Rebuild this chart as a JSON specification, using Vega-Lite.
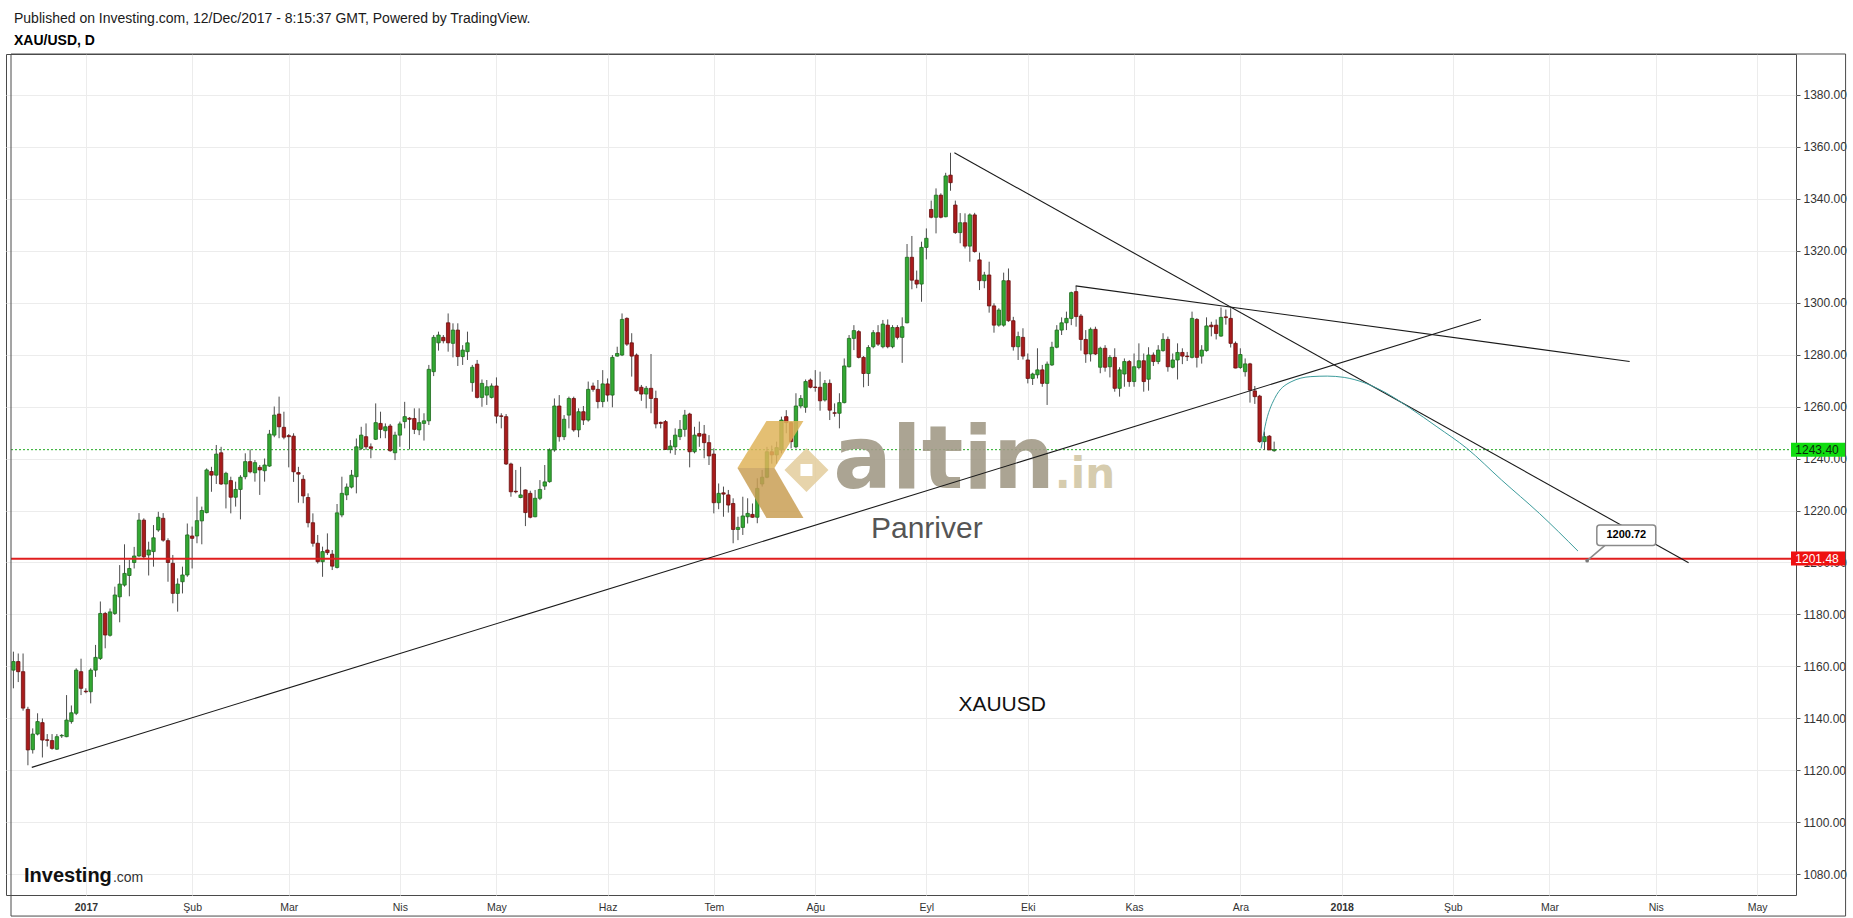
{
"$schema":"https://vega.github.io/schema/vega-lite/v6.json",
"width":1790,"height":841,
"autosize":{"type":"none"},
"padding":{"left":6,"top":54,"right":57,"bottom":23},
"background":"white",
"config":{"view":{"stroke":"#4a4a4a","strokeWidth":1},"font":"Liberation Sans"},
"title":{"text":"Published on Investing.com, 12/Dec/2017 - 8:15:37 GMT, Powered by TradingView.","subtitle":"XAU/USD, D","anchor":"start","frame":"group","dx":8,"offset":6,"font":"Liberation Sans","fontSize":14,"fontWeight":"normal","color":"#1a1a1a","subtitleFont":"Liberation Sans","subtitleFontSize":14,"subtitleFontWeight":"bold","subtitleColor":"#000000","subtitlePadding":8},
"encoding":{
 "x":{"field":"n","type":"quantitative","scale":{"domain":[-0.5,368],"nice":false,"zero":false},
  "axis":{"title":null,"domain":false,"grid":true,"gridColor":"#ececec","tickSize":0,"labelPadding":7,"labelFontSize":10.5,"labelColor":"#333333","labelFont":"Liberation Sans",
   "values":[15,37,57,80,100,123,145,166,189,210,232,254,275,298,318,340,361],
   "labelExpr":"['2017','Şub','Mar','Nis','May','Haz','Tem','Ağu','Eyl','Eki','Kas','Ara','2018','Şub','Mar','Nis','May'][indexof([15,37,57,80,100,123,145,166,189,210,232,254,275,298,318,340,361], datum.value)]",
   "labelFontWeight":{"condition":{"test":"datum.value == 15 || datum.value == 275","value":"bold"},"value":"normal"}}},
 "y":{"type":"quantitative","scale":{"domain":[1072.1,1395.6],"nice":false,"zero":false},
  "axis":{"title":null,"orient":"right","domain":false,"grid":true,"gridColor":"#ececec","tickSize":4,"tickColor":"#555555","labelPadding":3,"labelFontSize":12,"labelColor":"#333333","labelFont":"Liberation Sans","format":".2f",
   "values":[1080,1100,1120,1140,1160,1180,1200,1220,1240,1260,1280,1300,1320,1340,1360,1380]}}
},
"layer":[
{"data":{"values":[{"n":-0.5,"n2":368,"v":1243.4}]},"mark":{"type":"rule","color":"#1fa81f","strokeWidth":1,"strokeDash":[2,2]},"encoding":{"y":{"field":"v"},"x2":{"field":"n2"}}},
{"data":{"name":"candles"},"mark":{"type":"rule","color":"#4d4d4d","strokeWidth":1,"clip":true},"encoding":{"y":{"field":"l"},"y2":{"field":"h"}}},
{"data":{"name":"candles"},"mark":{"type":"bar","width":3.4,"strokeWidth":0.8,"clip":true},"encoding":{"y":{"field":"o"},"y2":{"field":"c"},
 "color":{"condition":{"test":"datum.c >= datum.o","value":"#33a833"},"value":"#a81c1c"},
 "stroke":{"condition":{"test":"datum.c >= datum.o","value":"#1d6b1d"},"value":"#6b0f0f"}}},
{"data":{"values":[{"n":-0.5,"n2":368,"v":1201.48}]},"mark":{"type":"rule","color":"#e01e1e","strokeWidth":2},"encoding":{"y":{"field":"v"},"x2":{"field":"n2"}}},
{"data":{"values":[{"n":159.0,"v":1235.6}]},"mark":{"type":"point","filled":true,"size":10000,"strokeWidth":0,"color":"#dfb45a","opacity":0.85,"shape":"M-0.88,-0.04L-0.3,-0.98L0.44,-0.98L-0.14,-0.04Z"},"encoding":{"y":{"field":"v"}}},
{"data":{"values":[{"n":159.0,"v":1235.6}]},"mark":{"type":"point","filled":true,"size":10000,"strokeWidth":0,"color":"#c99f55","opacity":0.85,"shape":"M-0.88,-0.04L-0.14,-0.04L0.44,0.96L-0.3,0.96Z"},"encoding":{"y":{"field":"v"}}},
{"data":{"values":[{"n":159.0,"v":1235.6}]},"mark":{"type":"point","filled":true,"size":10000,"strokeWidth":0,"color":"#e3cd9c","opacity":0.85,"shape":"M0.06,0L0.5,-0.44L0.94,0L0.5,0.44ZM0.38,-0.12L0.38,0.12L0.62,0.12L0.62,-0.12Z"},"encoding":{"y":{"field":"v"}}},
{"data":{"values":[{"t":"altin","n":169.7,"v":1228.7}]},"mark":{"type":"text","font":"DejaVu Sans","fontWeight":"bold","fontSize":87,"align":"left","baseline":"alphabetic","color":"#a29b88","opacity":0.9},"encoding":{"y":{"field":"v"},"text":{"field":"t"}}},
{"data":{"values":[{"t":".in","n":215.6,"v":1228.7}]},"mark":{"type":"text","font":"DejaVu Sans","fontWeight":"bold","fontSize":42,"align":"left","baseline":"alphabetic","color":"#d2c7a6","opacity":0.9},"encoding":{"y":{"field":"v"},"text":{"field":"t"}}},
{"data":{"values":[{"t":"Panriver","n":189.1,"v":1209.4}]},"mark":{"type":"text","font":"Liberation Sans","fontSize":30,"align":"center","baseline":"alphabetic","color":"#555555"},"encoding":{"y":{"field":"v"},"text":{"field":"t"}}},
{"data":{"values":[{"t":"XAUUSD","n":204.7,"v":1142.9}]},"mark":{"type":"text","font":"Liberation Sans","fontSize":21,"align":"center","baseline":"alphabetic","color":"#111111"},"encoding":{"y":{"field":"v"},"text":{"field":"t"}}},
{"data":{"values":[{"t":"Investing","n":2.2,"v":1077.2}]},"mark":{"type":"text","font":"Liberation Sans","fontWeight":"bold","fontSize":20,"align":"left","baseline":"alphabetic","color":"#111111","letterSpacing":-0.6},"encoding":{"y":{"field":"v"},"text":{"field":"t"}}},
{"data":{"values":[{"t":".com","n":20.6,"v":1077.2}]},"mark":{"type":"text","font":"Liberation Sans","fontSize":14,"align":"left","baseline":"alphabetic","color":"#333333"},"encoding":{"y":{"field":"v"},"text":{"field":"t"}}},
{"data":{"values":[{"id":"A","n":3.8,"v":1121.2},{"id":"A","n":303.8,"v":1293.5},{"id":"B","n":194.8,"v":1357.6},{"id":"B","n":346.8,"v":1199.9},{"id":"C","n":219.9,"v":1306.4},{"id":"C","n":334.6,"v":1277.3}]},"mark":{"type":"line","color":"#1a1a1a","strokeWidth":1.1},"encoding":{"y":{"field":"v"},"detail":{"field":"id"}}},
{"data":{"values":[{"n":258.3,"v":1243.9},{"n":259.1,"v":1252.2},{"n":261.1,"v":1263.1},{"n":264.5,"v":1269.5},{"n":268.6,"v":1271.5},{"n":272,"v":1271.7},{"n":275.5,"v":1271.2},{"n":279.6,"v":1269.2},{"n":283.7,"v":1265.7},{"n":289.2,"v":1259.3},{"n":294.7,"v":1252.2},{"n":300.9,"v":1243.9},{"n":308.1,"v":1231.7},{"n":315.9,"v":1218.9},{"n":323.9,"v":1204.4}]},"mark":{"type":"line","color":"#3d9c9c","strokeWidth":1,"interpolate":"monotone"},"encoding":{"y":{"field":"v"}}},
{"data":{"values":[{"n":329.5,"v":1206.6},{"n":325.8,"v":1200.72},{"n":332,"v":1206.6}]},"mark":{"type":"line","color":"#8a8a8a","strokeWidth":1.5},"encoding":{"y":{"field":"v"},"order":{"value":0}}},
{"data":{"values":[{"n":327.8,"n2":340,"v":1214.4,"v2":1206.5}]},"mark":{"type":"rect","fill":"white","stroke":"#8a8a8a","strokeWidth":1.5,"cornerRadius":3},"encoding":{"y":{"field":"v"},"x2":{"field":"n2"},"y2":{"field":"v2"}}},
{"data":{"values":[{"n":325.8,"v":1200.72}]},"mark":{"type":"point","filled":true,"color":"#7a7a7a","size":14,"opacity":1},"encoding":{"y":{"field":"v"}}},
{"data":{"values":[{"t":"1200.72","n":333.9,"v":1210.4}]},"mark":{"type":"text","font":"Liberation Sans","fontWeight":"bold","fontSize":11,"align":"center","baseline":"middle","color":"#000000"},"encoding":{"y":{"field":"v"},"text":{"field":"t"}}},
{"data":{"values":[{"n":368,"n2":379.3,"v":1246.1,"v2":1240.7,"k":"g"},{"n":368,"n2":379.3,"v":1204.2,"v2":1198.8,"k":"r"}]},"mark":{"type":"rect","clip":false},"encoding":{"y":{"field":"v"},"x2":{"field":"n2"},"y2":{"field":"v2"},"color":{"condition":{"test":"datum.k == 'g'","value":"#10dd10"},"value":"#ee1111"}}},
{"data":{"values":[{"t":"1243.40","n":368.9,"v":1243.4,"k":"g"},{"t":"1201.48","n":368.9,"v":1201.48,"k":"r"}]},"mark":{"type":"text","clip":false,"font":"Liberation Sans","fontSize":12,"align":"left","baseline":"middle"},"encoding":{"y":{"field":"v"},"text":{"field":"t"},"color":{"condition":{"test":"datum.k == 'g'","value":"#0a2a0a"},"value":"#ffffff"}}},
{"data":{"values":[{"n":-0.5,"n2":379.3,"v":1395.6,"v2":1064.0}]},"mark":{"type":"rect","clip":false,"filled":false,"stroke":"#4a4a4a","strokeWidth":1},"encoding":{"y":{"field":"v"},"x2":{"field":"n2"},"y2":{"field":"v2"}}}
],
"datasets":{"candles":[
{"n":0,"o":1158.6,"h":1165.7,"l":1151.6,"c":1161.9},
{"n":1,"o":1161.9,"h":1165,"l":1154,"c":1158},
{"n":2,"o":1158,"h":1165,"l":1143,"c":1144},
{"n":3,"o":1143.5,"h":1144.5,"l":1122,"c":1127.9},
{"n":4,"o":1128,"h":1136.2,"l":1126.5,"c":1134},
{"n":5,"o":1134,"h":1142,"l":1133.5,"c":1138.8},
{"n":6,"o":1138.4,"h":1140,"l":1125,"c":1131.7},
{"n":7,"o":1131.8,"h":1134,"l":1129.2,"c":1131.6},
{"n":8,"o":1131.5,"h":1134,"l":1128,"c":1128.5},
{"n":9,"o":1128.2,"h":1134,"l":1127.9,"c":1133},
{"n":10,"o":1133.3,"h":1134,"l":1132.5,"c":1133.5},
{"n":11,"o":1133,"h":1149,"l":1132.8,"c":1139.4},
{"n":12,"o":1138.8,"h":1145,"l":1138,"c":1142.2},
{"n":13,"o":1142,"h":1159.3,"l":1141.3,"c":1158.6},
{"n":14,"o":1158,"h":1163,"l":1149,"c":1151.6},
{"n":15,"o":1150.5,"h":1151.6,"l":1149.7,"c":1150.3},
{"n":16,"o":1150.3,"h":1159.3,"l":1145.8,"c":1158.6},
{"n":17,"o":1158.6,"h":1168.3,"l":1156,"c":1163.5},
{"n":18,"o":1163.1,"h":1185,"l":1162.5,"c":1180.4},
{"n":19,"o":1180.4,"h":1181,"l":1167,"c":1172.1},
{"n":20,"o":1172,"h":1182.3,"l":1171.5,"c":1181},
{"n":21,"o":1180.4,"h":1190.7,"l":1179.8,"c":1187.5},
{"n":22,"o":1186.8,"h":1199,"l":1177,"c":1191.7},
{"n":23,"o":1191.3,"h":1207,"l":1190.7,"c":1195.8},
{"n":24,"o":1195,"h":1201,"l":1187,"c":1197.7},
{"n":25,"o":1200,"h":1206,"l":1197.7,"c":1202.5},
{"n":26,"o":1202.5,"h":1219,"l":1202.2,"c":1216.3},
{"n":27,"o":1216.3,"h":1217,"l":1201.6,"c":1202.2},
{"n":28,"o":1202.9,"h":1208,"l":1195,"c":1204.8},
{"n":29,"o":1204.2,"h":1214.4,"l":1198.4,"c":1209.5},
{"n":30,"o":1212.5,"h":1219.5,"l":1211.8,"c":1217.4},
{"n":31,"o":1217,"h":1219,"l":1208,"c":1208.6},
{"n":32,"o":1208.4,"h":1209.3,"l":1192.6,"c":1200},
{"n":33,"o":1199.7,"h":1202.9,"l":1184.3,"c":1188.1},
{"n":34,"o":1188.1,"h":1193.9,"l":1181.1,"c":1191.7},
{"n":35,"o":1192.6,"h":1198.4,"l":1188.1,"c":1195.2},
{"n":36,"o":1195.2,"h":1215,"l":1194.5,"c":1210.6},
{"n":37,"o":1210.2,"h":1213.8,"l":1197.7,"c":1209.3},
{"n":38,"o":1210.2,"h":1225.3,"l":1207.4,"c":1216.1},
{"n":39,"o":1216,"h":1221.5,"l":1207,"c":1220},
{"n":40,"o":1219.2,"h":1236.2,"l":1218.9,"c":1235.6},
{"n":41,"o":1235,"h":1236.8,"l":1227.2,"c":1233.6},
{"n":42,"o":1233.6,"h":1245.2,"l":1230.2,"c":1241.7},
{"n":43,"o":1242.2,"h":1244.5,"l":1229.8,"c":1230.2},
{"n":44,"o":1230.2,"h":1234.9,"l":1220.8,"c":1234.3},
{"n":45,"o":1231.5,"h":1233,"l":1218.9,"c":1225.1},
{"n":46,"o":1225.1,"h":1231.1,"l":1221.5,"c":1228.1},
{"n":47,"o":1228.1,"h":1233.6,"l":1216.6,"c":1232.8},
{"n":48,"o":1233,"h":1242,"l":1232,"c":1238.8},
{"n":49,"o":1238.8,"h":1243.5,"l":1234.3,"c":1234.9},
{"n":50,"o":1234.5,"h":1239.4,"l":1231.1,"c":1238.4},
{"n":51,"o":1236.6,"h":1237.5,"l":1226,"c":1235.6},
{"n":52,"o":1235.3,"h":1240,"l":1231.1,"c":1237.5},
{"n":53,"o":1237.1,"h":1251,"l":1236.8,"c":1249.4},
{"n":54,"o":1249,"h":1260,"l":1248.2,"c":1256.7},
{"n":55,"o":1257.1,"h":1263.8,"l":1247.8,"c":1252.2},
{"n":56,"o":1252,"h":1258,"l":1247.4,"c":1248.2},
{"n":57,"o":1248.8,"h":1249.4,"l":1236.6,"c":1248.4},
{"n":58,"o":1248.6,"h":1249.7,"l":1231,"c":1234.9},
{"n":59,"o":1234.6,"h":1236.8,"l":1223,"c":1234},
{"n":60,"o":1232,"h":1233.6,"l":1222.8,"c":1225.6},
{"n":61,"o":1225,"h":1226.6,"l":1213.5,"c":1215.3},
{"n":62,"o":1215.3,"h":1218.9,"l":1206.1,"c":1207.4},
{"n":63,"o":1207.4,"h":1210.6,"l":1199.6,"c":1200.3},
{"n":64,"o":1200.3,"h":1206.1,"l":1194.5,"c":1204.2},
{"n":65,"o":1204.8,"h":1211.2,"l":1202.9,"c":1203.8},
{"n":66,"o":1203.2,"h":1204.8,"l":1197.1,"c":1198.6},
{"n":67,"o":1198.1,"h":1222.5,"l":1197.7,"c":1219.1},
{"n":68,"o":1218.3,"h":1233,"l":1217.4,"c":1226.6},
{"n":69,"o":1226,"h":1230.4,"l":1224,"c":1229},
{"n":70,"o":1229,"h":1235.6,"l":1228.5,"c":1233.6},
{"n":71,"o":1233,"h":1247.7,"l":1226.6,"c":1244.5},
{"n":72,"o":1243.9,"h":1252.2,"l":1243.3,"c":1249},
{"n":73,"o":1248.4,"h":1253.5,"l":1243.3,"c":1244.5},
{"n":74,"o":1244.5,"h":1245.8,"l":1240.1,"c":1243.9},
{"n":75,"o":1247.4,"h":1261.2,"l":1247.1,"c":1253.8},
{"n":76,"o":1253.5,"h":1258,"l":1247.8,"c":1251.2},
{"n":77,"o":1250.7,"h":1253.5,"l":1247.8,"c":1252.2},
{"n":78,"o":1252.5,"h":1253.3,"l":1242.6,"c":1243},
{"n":79,"o":1242.2,"h":1250.3,"l":1239.4,"c":1249},
{"n":80,"o":1249,"h":1254.2,"l":1244.5,"c":1253.3},
{"n":81,"o":1254.2,"h":1261.8,"l":1251.6,"c":1256.1},
{"n":82,"o":1255.5,"h":1255.9,"l":1243.5,"c":1255.1},
{"n":83,"o":1255.4,"h":1259.3,"l":1249.4,"c":1251.2},
{"n":84,"o":1251,"h":1259.3,"l":1249,"c":1253.8},
{"n":85,"o":1253.5,"h":1257.4,"l":1246.9,"c":1254.5},
{"n":86,"o":1254.5,"h":1276,"l":1252.9,"c":1274.3},
{"n":87,"o":1273.4,"h":1287.5,"l":1271.7,"c":1286.6},
{"n":88,"o":1284.5,"h":1288.8,"l":1281.5,"c":1287.5},
{"n":89,"o":1286.6,"h":1287.5,"l":1284.3,"c":1285.3},
{"n":90,"o":1292.2,"h":1295.8,"l":1281.1,"c":1284.5},
{"n":91,"o":1284.3,"h":1292,"l":1278.9,"c":1289.4},
{"n":92,"o":1289.4,"h":1292,"l":1275.6,"c":1279.2},
{"n":93,"o":1279.2,"h":1283.6,"l":1276,"c":1281.7},
{"n":94,"o":1281.1,"h":1288.8,"l":1277.9,"c":1284.5},
{"n":95,"o":1269.2,"h":1276,"l":1265.7,"c":1275.1},
{"n":96,"o":1276.3,"h":1277.9,"l":1263.1,"c":1263.5},
{"n":97,"o":1263.5,"h":1270.4,"l":1259.9,"c":1268.9},
{"n":98,"o":1264.4,"h":1270.2,"l":1260.6,"c":1267.6},
{"n":99,"o":1263.5,"h":1268.9,"l":1263.1,"c":1267.9},
{"n":100,"o":1267.9,"h":1271.2,"l":1253.5,"c":1256.3},
{"n":101,"o":1256.4,"h":1257.4,"l":1251.6,"c":1256.2},
{"n":102,"o":1256.1,"h":1257.1,"l":1237.5,"c":1237.9},
{"n":103,"o":1237.9,"h":1238.4,"l":1225.3,"c":1227.2},
{"n":104,"o":1227.4,"h":1235.6,"l":1226.6,"c":1227.2},
{"n":105,"o":1225,"h":1236.8,"l":1224.7,"c":1226},
{"n":106,"o":1227.9,"h":1228.1,"l":1214,"c":1219.2},
{"n":107,"o":1226.6,"h":1227.6,"l":1217,"c":1217.4},
{"n":108,"o":1217.6,"h":1227.9,"l":1217.4,"c":1224.7},
{"n":109,"o":1224.7,"h":1231.7,"l":1224,"c":1228.1},
{"n":110,"o":1229.4,"h":1237.5,"l":1227.9,"c":1231},
{"n":111,"o":1231.1,"h":1243.9,"l":1230.7,"c":1243.3},
{"n":112,"o":1243.3,"h":1263.1,"l":1242.6,"c":1260.2},
{"n":113,"o":1260.2,"h":1264.4,"l":1246.5,"c":1248.4},
{"n":114,"o":1248.4,"h":1256.7,"l":1247.1,"c":1255.1},
{"n":115,"o":1256.7,"h":1263.8,"l":1251.6,"c":1263.1},
{"n":116,"o":1263.1,"h":1263.8,"l":1250.3,"c":1251},
{"n":117,"o":1251,"h":1259.3,"l":1248.2,"c":1258},
{"n":118,"o":1258,"h":1260.2,"l":1252.9,"c":1254.8},
{"n":119,"o":1254.8,"h":1269.6,"l":1254.2,"c":1266.6},
{"n":120,"o":1267.9,"h":1269.2,"l":1265.7,"c":1266.6},
{"n":121,"o":1266.6,"h":1270.2,"l":1259.3,"c":1261.9},
{"n":122,"o":1261.9,"h":1274,"l":1259.7,"c":1268.7},
{"n":123,"o":1268.7,"h":1270.8,"l":1261.9,"c":1264.4},
{"n":124,"o":1264.4,"h":1279.8,"l":1259.7,"c":1278.9},
{"n":125,"o":1279.4,"h":1283,"l":1279.2,"c":1280.4},
{"n":126,"o":1279.8,"h":1295.8,"l":1279.4,"c":1293.5},
{"n":127,"o":1293.9,"h":1294.3,"l":1283.3,"c":1284},
{"n":128,"o":1284.5,"h":1288.2,"l":1271.5,"c":1279.4},
{"n":129,"o":1279.8,"h":1280.4,"l":1265.7,"c":1266.1},
{"n":130,"o":1267.4,"h":1268.3,"l":1262.2,"c":1264.8},
{"n":131,"o":1264.8,"h":1267.9,"l":1259.3,"c":1267},
{"n":132,"o":1267,"h":1280.2,"l":1257.4,"c":1263.1},
{"n":133,"o":1263.1,"h":1266.1,"l":1251.6,"c":1253.3},
{"n":134,"o":1253.9,"h":1254.2,"l":1251.6,"c":1253.5},
{"n":135,"o":1254.2,"h":1254.8,"l":1243.3,"c":1243.5},
{"n":136,"o":1243.5,"h":1247.1,"l":1242,"c":1244.8},
{"n":137,"o":1244.5,"h":1251.6,"l":1241.4,"c":1249},
{"n":138,"o":1248.4,"h":1254.8,"l":1247.1,"c":1251.2},
{"n":139,"o":1251.2,"h":1258.7,"l":1248.4,"c":1256.7},
{"n":140,"o":1257.1,"h":1257.6,"l":1236.6,"c":1242.6},
{"n":141,"o":1242.6,"h":1252.2,"l":1242,"c":1249},
{"n":142,"o":1249.6,"h":1254.2,"l":1244.5,"c":1248.6},
{"n":143,"o":1249.4,"h":1252.9,"l":1240.1,"c":1246.1},
{"n":144,"o":1246.1,"h":1249,"l":1237.5,"c":1241},
{"n":145,"o":1241.7,"h":1243.9,"l":1218.9,"c":1223},
{"n":146,"o":1223,"h":1230.4,"l":1220.5,"c":1226.6},
{"n":147,"o":1226.8,"h":1229.2,"l":1217.6,"c":1226.3},
{"n":148,"o":1226,"h":1227.9,"l":1219.2,"c":1222.1},
{"n":149,"o":1222.7,"h":1224.7,"l":1207.4,"c":1212.7},
{"n":150,"o":1212.7,"h":1217.6,"l":1208.6,"c":1213.5},
{"n":151,"o":1213.5,"h":1225.3,"l":1210.6,"c":1217.9},
{"n":152,"o":1217.6,"h":1224.7,"l":1215,"c":1218.9},
{"n":153,"o":1218.5,"h":1222.7,"l":1217.2,"c":1217.4},
{"n":154,"o":1217.4,"h":1232.4,"l":1215.1,"c":1228.5},
{"n":155,"o":1230.2,"h":1235.6,"l":1229.2,"c":1232.8},
{"n":156,"o":1232.8,"h":1244.5,"l":1232.4,"c":1242.6},
{"n":157,"o":1242.6,"h":1245,"l":1238,"c":1241.4},
{"n":158,"o":1241.4,"h":1246.5,"l":1238,"c":1244.2},
{"n":159,"o":1243.3,"h":1256.1,"l":1242,"c":1254.8},
{"n":160,"o":1256.1,"h":1258.6,"l":1249.7,"c":1253.8},
{"n":161,"o":1253.8,"h":1254.2,"l":1243.9,"c":1246.5},
{"n":162,"o":1244.5,"h":1265.1,"l":1243.9,"c":1260.2},
{"n":163,"o":1260.2,"h":1264.4,"l":1259.3,"c":1263.1},
{"n":164,"o":1259.7,"h":1270.4,"l":1257.6,"c":1269.6},
{"n":165,"o":1270.2,"h":1270.8,"l":1267,"c":1267.4},
{"n":166,"o":1267.5,"h":1274,"l":1265.7,"c":1267.3},
{"n":167,"o":1267.4,"h":1273.4,"l":1258.4,"c":1262.2},
{"n":168,"o":1262.5,"h":1270.2,"l":1261.9,"c":1268.9},
{"n":169,"o":1268.9,"h":1270.4,"l":1254.8,"c":1258.6},
{"n":170,"o":1257.6,"h":1261.2,"l":1256.1,"c":1257.4},
{"n":171,"o":1257.4,"h":1265.1,"l":1251.6,"c":1261.5},
{"n":172,"o":1261.5,"h":1278.5,"l":1261.2,"c":1275.6},
{"n":173,"o":1275.3,"h":1287.5,"l":1275,"c":1286.2},
{"n":174,"o":1286.2,"h":1291.3,"l":1281.7,"c":1289.2},
{"n":175,"o":1288.8,"h":1289.4,"l":1278.5,"c":1278.9},
{"n":176,"o":1278.9,"h":1279.4,"l":1267.4,"c":1272.7},
{"n":177,"o":1272.7,"h":1283.6,"l":1267.9,"c":1282.7},
{"n":178,"o":1283,"h":1289.4,"l":1282.4,"c":1288.4},
{"n":179,"o":1288.4,"h":1291.3,"l":1283.3,"c":1284},
{"n":180,"o":1283,"h":1293.3,"l":1282.4,"c":1291.7},
{"n":181,"o":1291.3,"h":1293.5,"l":1282.4,"c":1283},
{"n":182,"o":1283,"h":1291.3,"l":1282.4,"c":1290.4},
{"n":183,"o":1290.4,"h":1291.3,"l":1285.8,"c":1286.6},
{"n":184,"o":1286.6,"h":1294.3,"l":1276.8,"c":1290.7},
{"n":185,"o":1292.2,"h":1322.5,"l":1292,"c":1317.4},
{"n":186,"o":1317.4,"h":1325.6,"l":1305.1,"c":1308.6},
{"n":187,"o":1308.6,"h":1312.3,"l":1305.5,"c":1307.1},
{"n":188,"o":1307.1,"h":1323.4,"l":1300.3,"c":1321.2},
{"n":189,"o":1321.2,"h":1328.5,"l":1316.6,"c":1324.7},
{"n":190,"o":1335.8,"h":1339.2,"l":1332.4,"c":1332.8},
{"n":191,"o":1332.8,"h":1343.9,"l":1326.6,"c":1341.3},
{"n":192,"o":1341.3,"h":1342,"l":1332.4,"c":1332.8},
{"n":193,"o":1333,"h":1349.9,"l":1332.8,"c":1348.7},
{"n":194,"o":1349,"h":1357.6,"l":1343,"c":1346.1},
{"n":195,"o":1337.5,"h":1339.2,"l":1326.4,"c":1326.9},
{"n":196,"o":1326.9,"h":1334.4,"l":1322.8,"c":1330.7},
{"n":197,"o":1330.7,"h":1334.3,"l":1320.8,"c":1321.7},
{"n":198,"o":1321.7,"h":1334.3,"l":1315.7,"c":1333.7},
{"n":199,"o":1333.7,"h":1334.5,"l":1319.2,"c":1319.6},
{"n":200,"o":1316.4,"h":1319.2,"l":1304.8,"c":1308.4},
{"n":201,"o":1308.4,"h":1311.8,"l":1305.5,"c":1310.6},
{"n":202,"o":1310.6,"h":1315.7,"l":1296.1,"c":1298.7},
{"n":203,"o":1298.7,"h":1299.7,"l":1288.4,"c":1291.3},
{"n":204,"o":1291.3,"h":1297.8,"l":1290.7,"c":1297.1},
{"n":205,"o":1291.3,"h":1311.5,"l":1290.7,"c":1308.4},
{"n":206,"o":1308.4,"h":1313.1,"l":1292.6,"c":1293},
{"n":207,"o":1293,"h":1294.5,"l":1281.5,"c":1283},
{"n":208,"o":1283,"h":1288.8,"l":1277.9,"c":1286.9},
{"n":209,"o":1286.6,"h":1290.1,"l":1278.1,"c":1279.4},
{"n":210,"o":1277.9,"h":1280.4,"l":1268.9,"c":1270.8},
{"n":211,"o":1270.8,"h":1273,"l":1268.3,"c":1272.5},
{"n":212,"o":1272.2,"h":1282.4,"l":1270.8,"c":1274.1},
{"n":213,"o":1274.1,"h":1276,"l":1267.6,"c":1268.9},
{"n":214,"o":1268.9,"h":1277.3,"l":1260.6,"c":1276.3},
{"n":215,"o":1276,"h":1284.9,"l":1275.6,"c":1282.8},
{"n":216,"o":1282.8,"h":1291.3,"l":1282.4,"c":1289.4},
{"n":217,"o":1289.4,"h":1294.3,"l":1287.5,"c":1292.2},
{"n":218,"o":1292.2,"h":1296.5,"l":1289.4,"c":1293.9},
{"n":219,"o":1293.9,"h":1304.2,"l":1291.3,"c":1303.8},
{"n":220,"o":1304.2,"h":1306.3,"l":1290.7,"c":1294.6},
{"n":221,"o":1294.8,"h":1295.6,"l":1281.5,"c":1285.8},
{"n":222,"o":1285.8,"h":1289.4,"l":1276.8,"c":1280.2},
{"n":223,"o":1280.2,"h":1290.4,"l":1277.3,"c":1289.7},
{"n":224,"o":1289.7,"h":1290.7,"l":1279.8,"c":1280.2},
{"n":225,"o":1275.1,"h":1283,"l":1272.8,"c":1282.4},
{"n":226,"o":1282.4,"h":1283.6,"l":1273.4,"c":1275.1},
{"n":227,"o":1275.3,"h":1279.8,"l":1271.2,"c":1278.9},
{"n":228,"o":1278.9,"h":1282.4,"l":1265.7,"c":1267},
{"n":229,"o":1267,"h":1275.1,"l":1263.8,"c":1274.1},
{"n":230,"o":1272.5,"h":1278.5,"l":1267.6,"c":1277.3},
{"n":231,"o":1277.3,"h":1277.9,"l":1267.6,"c":1269.6},
{"n":232,"o":1269.6,"h":1280.4,"l":1267.6,"c":1275.3},
{"n":233,"o":1275,"h":1284.3,"l":1274.3,"c":1277.6},
{"n":234,"o":1277.6,"h":1280.4,"l":1265.7,"c":1269.6},
{"n":235,"o":1270.5,"h":1282.8,"l":1266.1,"c":1279.8},
{"n":236,"o":1279.8,"h":1280.8,"l":1275.6,"c":1277.3},
{"n":237,"o":1277.3,"h":1283.6,"l":1276.3,"c":1281.7},
{"n":238,"o":1281.5,"h":1288.2,"l":1281.1,"c":1285.8},
{"n":239,"o":1285.8,"h":1286.9,"l":1273.4,"c":1275.3},
{"n":240,"o":1275.1,"h":1280.4,"l":1274.7,"c":1277.9},
{"n":241,"o":1277.9,"h":1284.3,"l":1270.4,"c":1280.8},
{"n":242,"o":1280.8,"h":1282.4,"l":1276.3,"c":1279.4},
{"n":243,"o":1279.4,"h":1281,"l":1277.5,"c":1279.2},
{"n":244,"o":1278.9,"h":1296.5,"l":1278.5,"c":1293.9},
{"n":245,"o":1293.5,"h":1294,"l":1275,"c":1278.9},
{"n":246,"o":1279.4,"h":1283.6,"l":1276.5,"c":1281.7},
{"n":247,"o":1281.5,"h":1294.3,"l":1281.1,"c":1291},
{"n":248,"o":1291.3,"h":1292.6,"l":1287,"c":1290.7},
{"n":249,"o":1291.3,"h":1293.5,"l":1285.8,"c":1288.1},
{"n":250,"o":1287.1,"h":1298.1,"l":1286.8,"c":1294.3},
{"n":251,"o":1294.5,"h":1297.3,"l":1291.5,"c":1294.2},
{"n":252,"o":1293.9,"h":1297.8,"l":1282.7,"c":1284.3},
{"n":253,"o":1284.3,"h":1285,"l":1274.7,"c":1274.8},
{"n":254,"o":1275,"h":1282.4,"l":1274.5,"c":1280},
{"n":255,"o":1273.4,"h":1278.5,"l":1271.5,"c":1276.4},
{"n":256,"o":1276.4,"h":1276.8,"l":1261.5,"c":1266.3},
{"n":257,"o":1266,"h":1267.9,"l":1261,"c":1263.8},
{"n":258,"o":1264,"h":1264.5,"l":1246,"c":1246.5},
{"n":259,"o":1246.5,"h":1250.4,"l":1243.3,"c":1248.4},
{"n":260,"o":1248.6,"h":1249,"l":1243.3,"c":1243.3},
{"n":261,"o":1243,"h":1246.5,"l":1242.6,"c":1243.4}
]}
}
